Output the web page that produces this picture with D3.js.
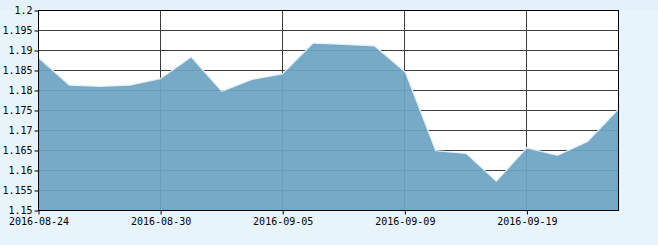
<!DOCTYPE html>
<html><head><meta charset="utf-8">
<script src="https://cdn.jsdelivr.net/npm/d3@7"></script>
<style>
html,body{margin:0;padding:0;background:#e8f4fc;}
svg{display:block;}
text{font-family:"DejaVu Sans Mono",monospace;font-size:10px;fill:#000;}
</style></head>
<body>
<svg id="c" width="658" height="245"></svg>
<script>
const dates = ["2016-08-24","2016-08-25","2016-08-26","2016-08-29","2016-08-30","2016-08-31","2016-09-01","2016-09-02","2016-09-05","2016-09-06","2016-09-07","2016-09-08","2016-09-09","2016-09-12","2016-09-13","2016-09-14","2016-09-19","2016-09-20","2016-09-21","2016-09-22"];
const values = [1.1880,1.1812,1.1809,1.1812,1.1828,1.1882,1.1796,1.1826,1.1840,1.1917,1.1914,1.1910,1.1845,1.1648,1.1641,1.1571,1.1655,1.1636,1.1671,1.1751];
const xTickLabels = ["2016-08-24","2016-08-30","2016-09-05","2016-09-09","2016-09-19"];
const yTicks = [1.15,1.155,1.16,1.165,1.17,1.175,1.18,1.185,1.19,1.195,1.2];
const yTickLabels = ["1.15","1.155","1.16","1.165","1.17","1.175","1.18","1.185","1.19","1.195","1.2"];

const svg = d3.select("#c");
const L = 38.5, T = 10.5, R = 618.5, B = 210.5;
svg.append("rect").attr("x",0).attr("y",0).attr("width",658).attr("height",10).attr("fill","#e4f1fb");

const x = d3.scalePoint().domain(dates).range([L, R]);
const y = d3.scaleLinear().domain([1.15, 1.2]).range([B, T]);

svg.append("rect").attr("x",L).attr("y",T).attr("width",R-L).attr("height",B-T).attr("fill","#fff");

const g = svg.append("g");
// grid
g.selectAll(".hg").data(yTicks).join("line")
  .attr("x1",L).attr("x2",R).attr("y1",d=>Math.round(y(d)-0.5)+0.5).attr("y2",d=>Math.round(y(d)-0.5)+0.5)
  .attr("stroke","#3c3c3c").attr("stroke-width",1);
g.selectAll(".vg").data(xTickLabels).join("line")
  .attr("x1",d=>Math.round(x(d)-0.5)+0.5).attr("x2",d=>Math.round(x(d)-0.5)+0.5).attr("y1",T).attr("y2",B)
  .attr("stroke","#3c3c3c").attr("stroke-width",1);

// area
const area = d3.area().x((d,i)=>x(dates[i])).y0(B).y1(d=>y(d));
const line = d3.line().x((d,i)=>x(dates[i])).y(d=>y(d));
svg.append("path").datum(values).attr("d",line).attr("fill","none").attr("stroke","#e2f0f9").attr("stroke-width",2.5);
svg.append("path").datum(values).attr("d",area).attr("fill","rgb(108,164,194)").attr("fill-opacity",0.93);

// frame
svg.append("rect").attr("x",L).attr("y",T).attr("width",R-L).attr("height",B-T).attr("fill","none").attr("stroke","#000").attr("stroke-width",1);

// y axis
const ya = d3.axisLeft(y).tickValues(yTicks).tickFormat((d,i)=>yTickLabels[i]).tickSize(4).tickPadding(2);
const yg = svg.append("g").attr("transform",`translate(${L},0)`).call(ya);
yg.select(".domain").remove();
yg.selectAll("text").style("font-family","'DejaVu Sans Mono',monospace").style("font-size","10px");

// x axis
const xa = d3.axisBottom(x).tickValues(xTickLabels).tickSize(4).tickPadding(3);
const xg = svg.append("g").attr("transform",`translate(0,${B})`).call(xa);
xg.select(".domain").remove();
xg.selectAll("text").style("font-family","'DejaVu Sans Mono',monospace").style("font-size","10px");
</script>
</body></html>
